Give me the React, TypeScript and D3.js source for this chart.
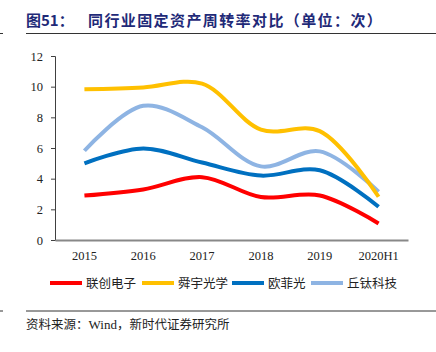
import { useRef, useEffect } from 'react';
import * as d3 from 'd3';

const years = ['2015', '2016', '2017', '2018', '2019', '2020H1'];
const names = ['联创电子', '舜宇光学', '欧菲光', '丘钛科技'];
const colors = ['#FF0000', '#FFC000', '#0070C0', '#8EB4E3'];
const lianchuang = [2.9, 3.3, 4.1, 2.8, 2.9, 1.08];
const sunny = [9.83, 9.95, 10.2, 7.2, 7.1, 2.82];
const ofilm = [5.0, 5.97, 5.05, 4.2, 4.55, 2.17];
const qtech = [5.82, 8.75, 7.35, 4.8, 5.78, 3.15];
const yTicks = [0, 2, 4, 6, 8, 10, 12];

const W = 436;
const H = 352;
const serif = '"Liberation Serif", "Times New Roman", serif';
const cjk = '"Noto Sans CJK SC", sans-serif';

const App = () => {
    const svgRef = useRef<SVGSVGElement | null>(null);

    useEffect(() => {
        if (!svgRef.current) return;
        const svg = d3.select(svgRef.current);
        svg.selectAll('*').remove();

        // title
        svg.append('text')
            .attr('x', 26).attr('y', 26)
            .attr('font-family', cjk).attr('font-weight', 'bold')
            .attr('font-size', 15).attr('fill', '#1F2A78')
            .text('图51：');
        svg.append('text')
            .attr('x', 88).attr('y', 26)
            .attr('font-family', cjk).attr('font-weight', 'bold')
            .attr('font-size', 15).attr('letter-spacing', 1.4).attr('fill', '#1F2A78')
            .text('同行业固定资产周转率对比（单位：次）');
        svg.append('line').attr('x1', 26).attr('x2', W).attr('y1', 33.5).attr('y2', 33.5)
            .attr('stroke', '#333').attr('stroke-width', 1);
        svg.append('line').attr('x1', 0).attr('x2', 3).attr('y1', 33.5).attr('y2', 33.5)
            .attr('stroke', '#333').attr('stroke-width', 1);

        const x = d3.scaleBand().domain(years).range([55, 408]);
        const y = d3.scaleLinear().domain([0, 12]).range([240, 56]);

        // y axis
        const yAxis = svg.append('g')
            .attr('transform', 'translate(55,0)')
            .call(d3.axisLeft(y).tickValues(yTicks).tickSize(4).tickPadding(8));
        yAxis.select('.domain').attr('stroke', '#404040');
        yAxis.selectAll('.tick line').attr('stroke', '#404040');
        yAxis.selectAll('text').attr('font-family', serif).attr('font-size', 12.5).attr('fill', '#222');

        // x axis
        const xAxis = svg.append('g')
            .attr('transform', 'translate(0,240)')
            .call(d3.axisBottom(x).tickSize(0).tickPadding(11));
        xAxis.select('.domain').attr('stroke', '#888').attr('stroke-width', 2);
        xAxis.selectAll('text').attr('font-family', serif).attr('font-size', 12.5).attr('fill', '#222');

        const series = [lianchuang, sunny, ofilm, qtech];
        const line = d3.line<number>()
            .x((_d, i) => (x(years[i]) ?? 0) + x.bandwidth() / 2)
            .y(d => y(d))
            .curve(d3.curveCatmullRom.alpha(0.5));

        // draw order: light blue, dark blue, yellow, red? keep yellow over light blue at end
        [3, 2, 1, 0].forEach(k => {
            svg.append('path')
                .datum(series[k])
                .attr('fill', 'none')
                .attr('stroke', colors[k])
                .attr('stroke-width', 4)
                .attr('d', line);
        });

        // legend
        const legendX = [50, 142, 232, 311];
        names.forEach((n, k) => {
            svg.append('line')
                .attr('x1', legendX[k]).attr('x2', legendX[k] + 32)
                .attr('y1', 283).attr('y2', 283)
                .attr('stroke', colors[k]).attr('stroke-width', 4);
            svg.append('text')
                .attr('x', legendX[k] + 36).attr('y', 288)
                .attr('font-family', cjk).attr('font-size', 12.5).attr('fill', '#222')
                .text(n);
        });

        // source
        svg.append('line').attr('x1', 26).attr('x2', W).attr('y1', 311).attr('y2', 311)
            .attr('stroke', '#333').attr('stroke-width', 1);
        svg.append('line').attr('x1', 0).attr('x2', 3).attr('y1', 311).attr('y2', 311)
            .attr('stroke', '#333').attr('stroke-width', 1);
        const src = svg.append('text').attr('x', 26).attr('y', 329)
            .attr('font-size', 12.5).attr('fill', '#222');
        src.append('tspan').attr('font-family', cjk).text('资料来源：');
        src.append('tspan').attr('font-family', serif).attr('font-size', 13).text('Wind');
        src.append('tspan').attr('font-family', cjk).text('，新时代证券研究所');
    }, []);

    return (
        <svg ref={svgRef} width={W} height={H}
            style={{ position: 'absolute', left: 0, top: 0, background: '#fff' }} />
    );
};

export default App;
